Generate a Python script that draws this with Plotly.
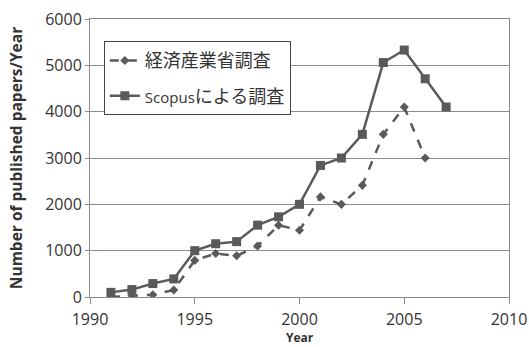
import plotly.graph_objects as go

years_meti = [1991, 1992, 1993, 1994, 1995, 1996, 1997, 1998, 1999, 2000,
              2001, 2002, 2003, 2004, 2005, 2006]
papers_meti = [0, 30, 50, 150, 790, 940, 890, 1100, 1550, 1440,
               2160, 2000, 2410, 3510, 4100, 3000]

years_scopus = [1991, 1992, 1993, 1994, 1995, 1996, 1997, 1998, 1999, 2000,
                2001, 2002, 2003, 2004, 2005, 2006, 2007]
papers_scopus = [100, 160, 290, 390, 1000, 1150, 1195, 1550, 1730, 2000,
                 2840, 3000, 3510, 5060, 5330, 4710, 4100]

name_meti = "経済産業省調査"
name_scopus = "<span style='font-family:Open Sans;font-size:15px'>Scopus</span>による調査"

x_ticks = [1990, 1995, 2000, 2005, 2010]
y_ticks = [0, 1000, 2000, 3000, 4000, 5000, 6000]

line_color = "#5a5a5a"
axis_color = "#8a8a8a"
font_main = "Open Sans, Noto Sans CJK JP, sans-serif"

fig = go.Figure()
fig.add_trace(go.Scatter(
    x=years_meti, y=papers_meti, name=name_meti, mode="lines+markers",
    legendgroup="a",
    line=dict(color=line_color, width=2.5, dash="dash"),
    marker=dict(symbol="diamond", size=7, color=line_color),
))
fig.add_trace(go.Scatter(
    x=years_scopus, y=papers_scopus, name=name_scopus, mode="lines+markers",
    legendgroup="b",
    line=dict(color=line_color, width=2.5),
    marker=dict(symbol="square", size=9, color=line_color),
))

fig.update_layout(
    width=529, height=347,
    margin=dict(l=90, r=20, t=19, b=50, autoexpand=False),
    paper_bgcolor="white", plot_bgcolor="white",
    font=dict(family=font_main, color="#333333"),
    showlegend=True,
    legend=dict(
        x=0.033, y=0.92, xanchor="left", yanchor="top",
        bgcolor="white", bordercolor="#444444", borderwidth=1,
        font=dict(size=18, family="Noto Sans CJK JP, Open Sans, sans-serif", color="#333333"),
        tracegroupgap=9, traceorder="grouped",
    ),
    xaxis=dict(
        range=[1990, 2010], tickvals=x_ticks, ticks="outside", ticklen=6,
        tickcolor=axis_color, showgrid=False, zeroline=False, automargin=False,
        showline=True, linecolor=axis_color, linewidth=1, mirror=True,
        ticklabelstandoff=2,
        tickfont=dict(size=16, color="#333333"),
    ),
    yaxis=dict(
        range=[0, 6000], tickvals=y_ticks, ticks="outside", ticklen=4,
        tickcolor=axis_color, showgrid=True, gridcolor="#8c8c8c", gridwidth=1,
        zeroline=False, showline=True, linecolor=axis_color, linewidth=1, mirror=True,
        automargin=False,
        tickfont=dict(size=16, color="#333333"),
        title=dict(text="<b>Number of published papers/Year</b>",
                   font=dict(size=15.5, color="#333333"), standoff=18),
    ),
    annotations=[dict(
        text="<b>Year</b>", x=0.5, xref="paper", y=-0.145, yref="paper",
        xanchor="center", yanchor="middle", showarrow=False,
        font=dict(size=12, color="#333333"),
    )],
)

fig.write_html("out.html")
